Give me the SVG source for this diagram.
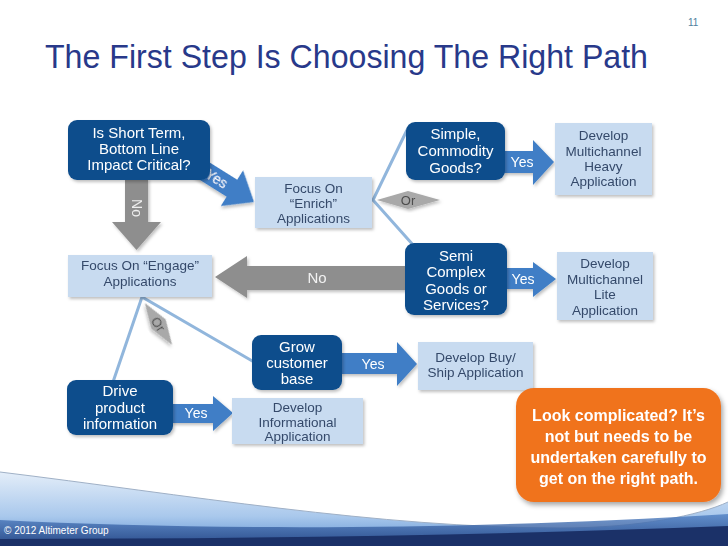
<svg xmlns="http://www.w3.org/2000/svg" width="728" height="546" viewBox="0 0 728 546">
<defs>
<linearGradient id="wave1" x1="0" y1="0" x2="0" y2="1">
<stop offset="0" stop-color="#e4eef9"/>
<stop offset="0.6" stop-color="#a9c8ec"/>
<stop offset="1" stop-color="#5f92d2"/>
</linearGradient>
<linearGradient id="wave2" x1="0" y1="0" x2="0" y2="1">
<stop offset="0" stop-color="#4f80c4"/>
<stop offset="1" stop-color="#1d3a78"/>
</linearGradient>
<filter id="sh" x="-10%" y="-10%" width="125%" height="130%">
<feDropShadow dx="1.5" dy="2" stdDeviation="1.5" flood-color="#000" flood-opacity="0.25"/>
</filter>
<filter id="sh2" x="-10%" y="-10%" width="125%" height="130%">
<feDropShadow dx="2" dy="3" stdDeviation="2.5" flood-color="#000" flood-opacity="0.35"/>
</filter>
</defs>
<style>
.dark{fill:#0f4e8c;}
.light{fill:#c8dbf0;}
.wt{font-family:"Liberation Sans",Arial,sans-serif;font-size:15px;fill:#ffffff;text-anchor:middle;}
.lt{font-family:"Liberation Sans",Arial,sans-serif;font-size:13.5px;fill:#34496a;text-anchor:middle;}
.yes{font-family:"Liberation Sans",Arial,sans-serif;font-size:14px;fill:#ffffff;text-anchor:middle;}
.blue{fill:#3f7ec6;}
.gray{fill:#8e8e8e;}
.line{fill:none;stroke:#91b6dc;stroke-width:3;}
.or{fill:#a9a9a9;}
.ort{font-family:"Liberation Sans",Arial,sans-serif;font-size:13px;fill:#4d4d4d;text-anchor:middle;}
</style>
<rect width="728" height="546" fill="#ffffff"/>

<!-- footer wave -->
<path d="M0,472 C180,494 380,528 560,528 C640,528 700,515 728,502 L728,546 L0,546 Z" fill="url(#wave1)"/>
<path d="M0,472 C180,494 380,528 560,528 C640,528 700,515 728,502" fill="none" stroke="#9fb0c6" stroke-width="1"/>
<path d="M0,520 C200,530 450,531 728,514 L728,546 L0,546 Z" fill="url(#wave2)" opacity="0.8"/>
<path d="M0,539 C250,539 500,535 728,526 L728,546 L0,546 Z" fill="#1b3168"/>
<text x="4" y="534" font-family="Liberation Sans,Arial,sans-serif" font-size="10" fill="#ffffff">© 2012 Altimeter Group</text>

<text x="688" y="26" font-family="Liberation Sans,Arial,sans-serif" font-size="10" fill="#4f7f9f">11</text>
<text x="45" y="68" font-family="Liberation Sans,Arial,sans-serif" font-size="33" fill="#28398a" textLength="603" lengthAdjust="spacingAndGlyphs">The First Step Is Choosing The Right Path</text>

<g id="connectors">
<polyline class="line" points="407,130 373,200 414,246"/>
<polyline class="line" points="113,382 142,297 254,362"/>
<g id="arrow-no-down" filter="url(#sh)">
<path class="gray" d="M125,178 L148,178 L148,222 L161,222 L136.5,250 L112,222 L125,222 Z"/>
<text class="yes" transform="translate(137,208) rotate(90)" x="0" y="5" style="fill:#eeeeee">No</text>
</g>
<g id="arrow-yes-enrich" transform="translate(198,167) rotate(32)" filter="url(#sh)">
<path class="blue" d="M0,-10 L40,-10 L40,-21 L66,0 L40,21 L40,10 L0,10 Z"/>
<text class="yes" x="22" y="5">Yes</text>
</g>
<g id="arrow-yes-heavy" filter="url(#sh)">
<path class="blue" d="M503,151 L533,151 L533,140 L554,162 L533,185 L533,173 L503,173 Z"/>
<text class="yes" x="522" y="167">Yes</text>
</g>
<g id="arrow-no-left" filter="url(#sh)">
<path class="gray" d="M410,266 L247,266 L247,256 L215,277 L247,298 L247,290 L410,290 Z"/>
<text class="yes" x="317" y="283" style="font-size:15px;fill:#f2f2f2">No</text>
</g>
<g id="arrow-yes-lite" filter="url(#sh)">
<path class="blue" d="M505,268 L533,268 L533,262 L556,279 L533,297 L533,289 L505,289 Z"/>
<text class="yes" x="523" y="284">Yes</text>
</g>
<g id="arrow-yes-buy" filter="url(#sh)">
<path class="blue" d="M340,353 L397,353 L397,342 L417,364 L397,386 L397,374 L340,374 Z"/>
<text class="yes" x="373" y="369">Yes</text>
</g>
<g id="arrow-yes-info" filter="url(#sh)">
<path class="blue" d="M171,404 L213,404 L213,396 L233,413 L213,431 L213,423 L171,423 Z"/>
<text class="yes" x="196" y="418">Yes</text>
</g>
<g id="or1" filter="url(#sh)">
<polygon class="or" points="377,200 408,191 440,200 408,209"/>
<text class="ort" x="408" y="205">Or</text>
</g>
<g id="or2" transform="translate(158.5,324) rotate(57)" filter="url(#sh)">
<polygon class="or" points="-25,0 0,-8.5 25,0 0,8.5"/>
<text class="ort" x="0" y="4.5">Or</text>
</g>
</g>

<g id="n-short-term" filter="url(#sh)">
<rect class="dark" x="68" y="120" width="142" height="60" rx="9"/>
<text class="wt" x="139" y="138">Is Short Term,</text>
<text class="wt" x="139" y="154">Bottom Line</text>
<text class="wt" x="139" y="170">Impact Critical?</text>
</g>
<g id="n-enrich" filter="url(#sh)">
<rect class="light" x="255" y="177" width="117" height="51"/>
<text class="lt" x="313.5" y="193">Focus On</text>
<text class="lt" x="313.5" y="208">“Enrich”</text>
<text class="lt" x="313.5" y="223">Applications</text>
</g>
<g id="n-simple" filter="url(#sh)">
<rect class="dark" x="406" y="122" width="99" height="58" rx="9"/>
<text class="wt" x="455.5" y="139">Simple,</text>
<text class="wt" x="455.5" y="156">Commodity</text>
<text class="wt" x="455.5" y="173">Goods?</text>
</g>
<g id="n-heavy" filter="url(#sh)">
<rect class="light" x="555" y="123" width="97" height="72"/>
<text class="lt" x="603.5" y="140">Develop</text>
<text class="lt" x="603.5" y="156">Multichannel</text>
<text class="lt" x="603.5" y="171">Heavy</text>
<text class="lt" x="603.5" y="186">Application</text>
</g>
<g id="n-engage" filter="url(#sh)">
<rect class="light" x="68" y="255" width="144" height="42"/>
<text class="lt" x="140" y="270">Focus On “Engage”</text>
<text class="lt" x="140" y="286">Applications</text>
</g>
<g id="n-semi" filter="url(#sh)">
<rect class="dark" x="405" y="243" width="102" height="72" rx="9"/>
<text class="wt" x="456" y="261">Semi</text>
<text class="wt" x="456" y="277">Complex</text>
<text class="wt" x="456" y="294">Goods or</text>
<text class="wt" x="456" y="310">Services?</text>
</g>
<g id="n-lite" filter="url(#sh)">
<rect class="light" x="557" y="252" width="96" height="68"/>
<text class="lt" x="605" y="268">Develop</text>
<text class="lt" x="605" y="284">Multichannel</text>
<text class="lt" x="605" y="299">Lite</text>
<text class="lt" x="605" y="315">Application</text>
</g>
<g id="n-grow" filter="url(#sh)">
<rect class="dark" x="252" y="335" width="90" height="55" rx="9"/>
<text class="wt" x="297" y="352">Grow</text>
<text class="wt" x="297" y="368">customer</text>
<text class="wt" x="297" y="384">base</text>
</g>
<g id="n-buy" filter="url(#sh)">
<rect class="light" x="418" y="342" width="115" height="48"/>
<text class="lt" x="475.5" y="362">Develop Buy/</text>
<text class="lt" x="475.5" y="377">Ship Application</text>
</g>
<g id="n-drive" filter="url(#sh)">
<rect class="dark" x="67" y="380" width="106" height="55" rx="9"/>
<text class="wt" x="120" y="396">Drive</text>
<text class="wt" x="120" y="413">product</text>
<text class="wt" x="120" y="429">information</text>
</g>
<g id="n-info" filter="url(#sh)">
<rect class="light" x="232" y="398" width="131" height="46"/>
<text class="lt" x="297.5" y="412">Develop</text>
<text class="lt" x="297.5" y="427">Informational</text>
<text class="lt" x="297.5" y="441">Application</text>
</g>
<g id="n-callout" filter="url(#sh2)">
<rect x="516" y="388" width="205" height="114" rx="18" fill="#f0731f"/>
<g font-family="Liberation Sans,Arial,sans-serif" font-size="16" font-weight="bold" fill="#ffffff" text-anchor="middle">
<text x="618.5" y="421">Look complicated? It’s</text>
<text x="618.5" y="442">not but needs to be</text>
<text x="618.5" y="463">undertaken carefully to</text>
<text x="618.5" y="484">get on the right path.</text>
</g>
</g>
</svg>
